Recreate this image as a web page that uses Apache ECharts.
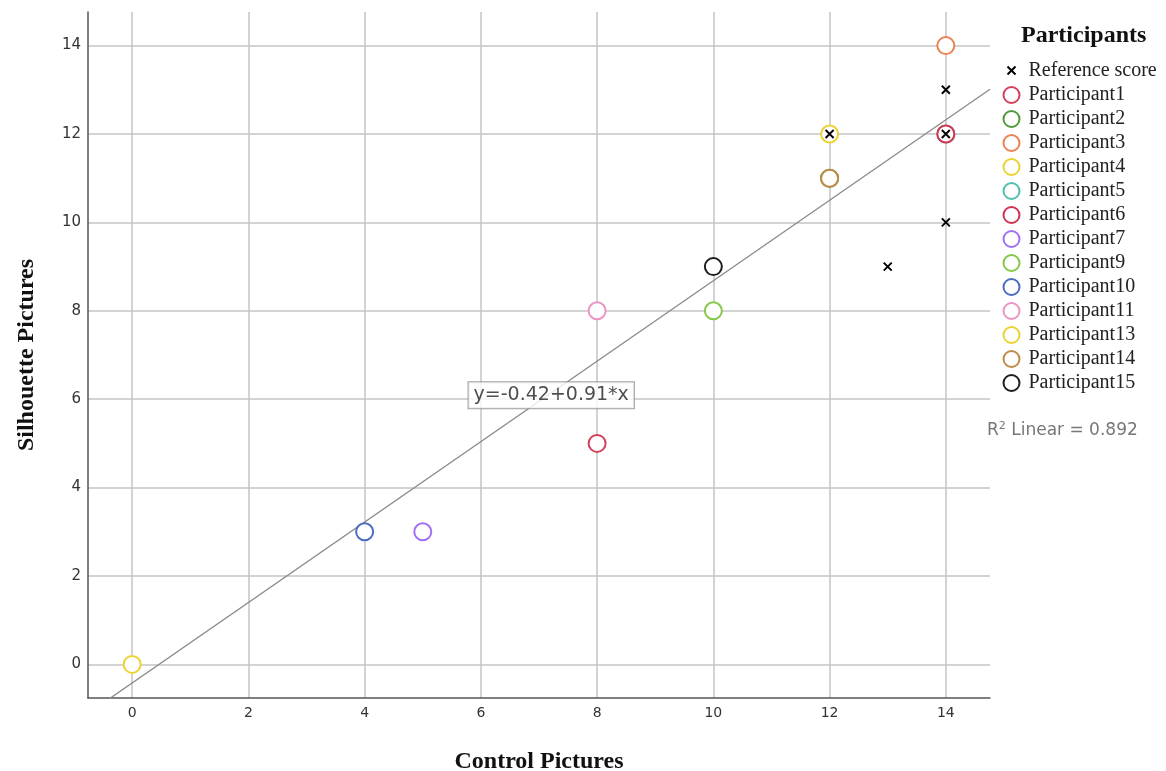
<!DOCTYPE html>
<html>
<head>
<meta charset="utf-8">
<script src="https://cdn.jsdelivr.net/npm/echarts@6/dist/echarts.min.js"></script>
<style>html,body{margin:0;padding:0;background:#fff;}#c{width:1166px;height:771px;}</style>
</head>
<body>
<div id="c"></div>
<script>
// ---- data ----
const xTicks = [0, 2, 4, 6, 8, 10, 12, 14];
const yTicks = [0, 2, 4, 6, 8, 10, 12, 14];
const referenceScore = [[12, 12], [14, 13], [14, 12], [14, 10], [13, 9]];
const participantNames = ['Participant1','Participant2','Participant3','Participant4','Participant5','Participant6','Participant7','Participant9','Participant10','Participant11','Participant13','Participant14','Participant15'];
const participantPoints = [
  [[8, 5]],     // Participant1
  [[12, 11]],   // Participant2 (hidden under Participant14)
  [[14, 14]],   // Participant3
  [[12, 12]],   // Participant4
  [[14, 12]],   // Participant5 (hidden under Participant6)
  [[14, 12]],   // Participant6
  [[5, 3]],     // Participant7
  [[10, 8]],    // Participant9
  [[4, 3]],     // Participant10
  [[8, 8]],     // Participant11
  [[0, 0]],     // Participant13
  [[12, 11]],   // Participant14
  [[10, 9]]     // Participant15
];
const participantColors = ['#d4405a','#4f9a3c','#ee8152','#ecd232','#4fbfb0','#d23350','#a070f5','#86c848','#4c6cc0','#eb94c4','#ecd232','#c08a48','#1e1e1e'];
const fitIntercept = -0.42;
const fitSlope = 0.91;
const rSquared = 0.892;
const axisMin = -0.76, axisMax = 14.76;
const annotationPos = [7.21, 6.09];

// ---- chart ----
const chart = echarts.init(document.getElementById('c'));
const fitLine = [axisMin, axisMax].map(x => [x, fitIntercept + fitSlope * x]);
const crossPath = 'path://M0,0L10,10M10,0L0,10';
const crossLegendPath = 'path://M-5,-5L-5,-5M15,15L15,15M0,0L10,10M10,0L0,10';

const series = [];
series.push({
  name: 'Fit', type: 'line', data: fitLine, showSymbol: false, symbol: 'none', clip: true,
  lineStyle: { color: '#8a8a8a', width: 1.3 }, silent: true, z: 2, animation: false
});
participantNames.forEach((n, i) => {
  series.push({
    name: n, type: 'scatter', data: participantPoints[i], symbol: 'emptyCircle', symbolSize: 17,
    itemStyle: { color: participantColors[i], borderColor: participantColors[i], borderWidth: 1.6, opacity: 1 },
    z: 3 + i, animation: false
  });
});
series.push({
  name: 'Reference score', type: 'scatter', data: referenceScore, symbol: crossPath, symbolSize: 8,
  itemStyle: { color: 'none', borderColor: '#000', borderWidth: 1.9, opacity: 1 }, z: 30, animation: false
});
series.push({
  name: 'annot', type: 'scatter', data: [annotationPos], symbolSize: 0, silent: true, z: 25,
  label: {
    show: true, position: 'inside', formatter: 'y=' + fitIntercept.toFixed(2) + '+' + fitSlope.toFixed(2) + '*x',
    fontFamily: 'DejaVu Sans', fontSize: 19, color: '#222', backgroundColor: '#fff',
    borderColor: '#888', borderWidth: 1, padding: [4, 5, 3, 5]
  }, animation: false
});

chart.setOption({
  backgroundColor: '#fff',
  animation: false,
  title: {
    text: 'Participants', left: 1016, top: 19,
    textStyle: { fontFamily: 'Liberation Serif', fontWeight: 'bold', fontSize: 24, color: '#111' }
  },
  legend: {
    orient: 'vertical', left: 996, top: 55, itemWidth: 18, itemHeight: 16, itemGap: 4.0,
    data: [{ name: 'Reference score', icon: crossLegendPath }].concat(participantNames.map(n => ({ name: n }))),
    textStyle: { fontFamily: 'Liberation Serif', fontSize: 20, color: '#222', padding: [0, 0, 0, 3] }
  },
  grid: { left: 88, right: 176, top: 12, bottom: 73, outerBoundsMode: 'none', containLabel: false },
  xAxis: {
    type: 'value', min: axisMin, max: axisMax,
    name: 'Control Pictures', nameLocation: 'middle', nameGap: 52,
    nameTextStyle: { fontFamily: 'Liberation Serif', fontWeight: 'bold', fontSize: 24, color: '#111' },
    axisLine: { show: true, onZero: false, lineStyle: { color: '#555', width: 1.5 } },
    axisTick: { show: false, customValues: xTicks },
    axisLabel: { customValues: xTicks, fontFamily: 'DejaVu Sans', fontSize: 14, color: '#333', margin: 8 },
    splitLine: { show: true, lineStyle: { color: '#c4c4c4', width: 1.5 } }
  },
  yAxis: {
    type: 'value', min: axisMin, max: axisMax,
    name: 'Silhouette Pictures', nameLocation: 'middle', nameGap: 49,
    nameTextStyle: { fontFamily: 'Liberation Serif', fontWeight: 'bold', fontSize: 24, color: '#111' },
    axisLine: { show: true, onZero: false, lineStyle: { color: '#555', width: 1.5 } },
    axisTick: { show: false, customValues: yTicks },
    axisLabel: { customValues: yTicks, fontFamily: 'DejaVu Sans', fontSize: 15, color: '#333', margin: 7 },
    splitLine: { show: true, lineStyle: { color: '#c4c4c4', width: 1.5 } }
  },
  graphic: [{
    type: 'text', left: 987, top: 421,
    style: {
      text: '{a|R}{s|2}{a| Linear = ' + rSquared.toFixed(3) + '}',
      rich: {
        a: { fontFamily: 'DejaVu Sans', fontSize: 17, fill: '#777', color: '#777' },
        s: { fontFamily: 'DejaVu Sans', fontSize: 11, fill: '#777', color: '#777', verticalAlign: 'top', padding: [0, 0, 8, 0] }
      }
    }
  }],
  series: series
});
</script>
</body>
</html>
